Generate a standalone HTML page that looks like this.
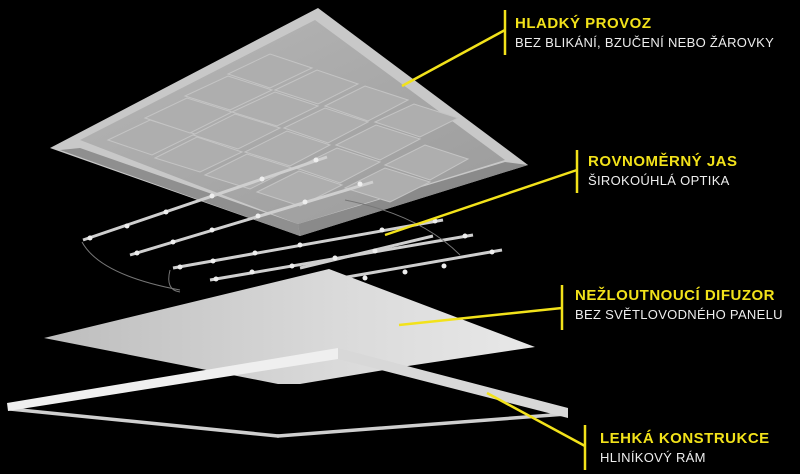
<!DOCTYPE html>
<html><head><meta charset="utf-8"><style>
html,body{margin:0;padding:0;background:#000;}
body{width:800px;height:474px;overflow:hidden;position:relative;font-family:"Liberation Sans",sans-serif;}
.t{position:absolute;font-size:15px;font-weight:bold;color:#f2e21a;letter-spacing:0.5px;white-space:nowrap;}
.s{position:absolute;font-size:13px;color:#eee;letter-spacing:0.3px;white-space:nowrap;}
</style></head><body>
<svg width="800" height="474" style="position:absolute;left:0;top:0">
<defs>
<linearGradient id="g1" x1="0" y1="0" x2="1" y2="1"><stop offset="0" stop-color="#b8b8b8"/><stop offset="1" stop-color="#9a9a9a"/></linearGradient>
<linearGradient id="g2" x1="0" y1="0" x2="1" y2="0"><stop offset="0" stop-color="#bdbdbd"/><stop offset="0.6" stop-color="#dadada"/><stop offset="1" stop-color="#e8e8e8"/></linearGradient>
</defs>
<!-- top panel -->
<polygon points="50,148 318,8 528,165 300,236" fill="#c8c8c8"/>
<polygon points="60,150 300,236 298,224 80,148" fill="#8f8f8f"/>
<polygon points="298,224 300,236 528,165 505,162" fill="#8a8a8a"/>
<polygon points="80,140 315,20 505,160 298,224" fill="url(#g1)"/>
<g fill="#aeaeae" stroke="#c4c4c4" stroke-width="1">
<polygon points="108,140 150,120 195,134 152,155"/>
<polygon points="145,118 187,98 232,112 190,133"/>
<polygon points="185,96 228,76 272,90 230,110"/>
<polygon points="228,74 270,54 312,68 270,88"/>
<polygon points="155,158 197,137 242,152 200,172"/>
<polygon points="193,135 235,114 280,128 238,149"/>
<polygon points="232,112 275,92 318,106 277,126"/>
<polygon points="275,90 317,70 358,84 318,104"/>
<polygon points="205,175 247,154 292,168 250,189"/>
<polygon points="245,152 287,131 330,145 290,166"/>
<polygon points="284,128 325,108 368,122 328,143"/>
<polygon points="325,106 365,86 408,100 368,121"/>
<polygon points="257,192 299,171 342,185 300,206"/>
<polygon points="296,168 337,148 380,162 340,183"/>
<polygon points="336,145 376,125 420,139 380,160"/>
<polygon points="375,122 414,104 458,118 420,137"/>
<polygon points="345,188 385,168 430,182 390,202"/>
<polygon points="385,165 425,145 468,159 430,180"/>
</g>
<!-- LED strips -->
<g stroke="#cfcfcf" stroke-width="3">
<line x1="83" y1="240" x2="327" y2="157"/>
<line x1="130" y1="255" x2="373" y2="182"/>
<line x1="173" y1="268" x2="443" y2="220"/>
<line x1="210" y1="280" x2="473" y2="235"/>
<line x1="300" y1="268" x2="433" y2="236"/>
<line x1="330" y1="280" x2="502" y2="250"/>
</g>
<g fill="#eee">
<circle cx="90" cy="238" r="2.5"/><circle cx="127" cy="226" r="2.5"/><circle cx="166" cy="212" r="2.5"/><circle cx="212" cy="196" r="2.5"/><circle cx="262" cy="179" r="2.5"/><circle cx="316" cy="160" r="2.5"/>
<circle cx="137" cy="253" r="2.5"/><circle cx="173" cy="242" r="2.5"/><circle cx="212" cy="230" r="2.5"/><circle cx="258" cy="216" r="2.5"/><circle cx="305" cy="202" r="2.5"/><circle cx="360" cy="184" r="2.5"/>
<circle cx="180" cy="267" r="2.5"/><circle cx="213" cy="261" r="2.5"/><circle cx="255" cy="253" r="2.5"/><circle cx="300" cy="245" r="2.5"/><circle cx="382" cy="230" r="2.5"/><circle cx="435" cy="221" r="2.5"/>
<circle cx="216" cy="279" r="2.5"/><circle cx="252" cy="272" r="2.5"/><circle cx="292" cy="266" r="2.5"/><circle cx="335" cy="258" r="2.5"/><circle cx="375" cy="251" r="2.5"/><circle cx="465" cy="236" r="2.5"/>
<circle cx="365" cy="278" r="2.5"/><circle cx="405" cy="272" r="2.5"/><circle cx="444" cy="266" r="2.5"/><circle cx="492" cy="252" r="2.5"/>
</g>
<g stroke="#777" stroke-width="1" fill="none">
<path d="M82,242 Q100,275 180,290"/><path d="M170,270 Q165,290 180,292"/><path d="M345,200 Q420,215 460,255"/>
</g>
<!-- diffuser -->
<polygon points="44,338 329,269 535,347 408,366 300,384 278,384" fill="url(#g2)"/>
<!-- frame far bars -->
<g stroke="#cfcfcf" stroke-width="3.5" fill="none" stroke-linecap="round">
<line x1="10" y1="409" x2="278" y2="436"/>
<line x1="278" y1="436" x2="566" y2="414"/>
</g>
<!-- frame near bars -->
<polygon points="7,403 338,348 338,359 8,411" fill="#efefef"/>
<polygon points="338,348 568,408 568,418 338,359" fill="#d8d8d8"/>
<!-- leaders -->
<g stroke="#f2e21a" stroke-width="2.5" fill="none">
<line x1="402" y1="86" x2="505" y2="30"/><line x1="505" y1="10" x2="505" y2="55"/>
<line x1="385" y1="235" x2="577" y2="170"/><line x1="577" y1="150" x2="577" y2="193"/>
<line x1="399" y1="325" x2="562" y2="308"/><line x1="562" y1="285" x2="562" y2="330"/>
<line x1="487" y1="393" x2="585" y2="446"/><line x1="585" y1="425" x2="585" y2="470"/>
</g>
</svg>
<div class="t" style="left:515px;top:15px">HLADKÝ PROVOZ</div>
<div class="s" style="left:515px;top:35px">BEZ BLIKÁNÍ, BZUČENÍ NEBO ŽÁROVKY</div>
<div class="t" style="left:588px;top:153px">ROVNOMĚRNÝ JAS</div>
<div class="s" style="left:588px;top:173px">ŠIROKOÚHLÁ OPTIKA</div>
<div class="t" style="left:575px;top:287px">NEŽLOUTNOUCÍ DIFUZOR</div>
<div class="s" style="left:575px;top:307px">BEZ SVĚTLOVODNÉHO PANELU</div>
<div class="t" style="left:600px;top:430px">LEHKÁ KONSTRUKCE</div>
<div class="s" style="left:600px;top:450px">HLINÍKOVÝ RÁM</div>
</body></html>
